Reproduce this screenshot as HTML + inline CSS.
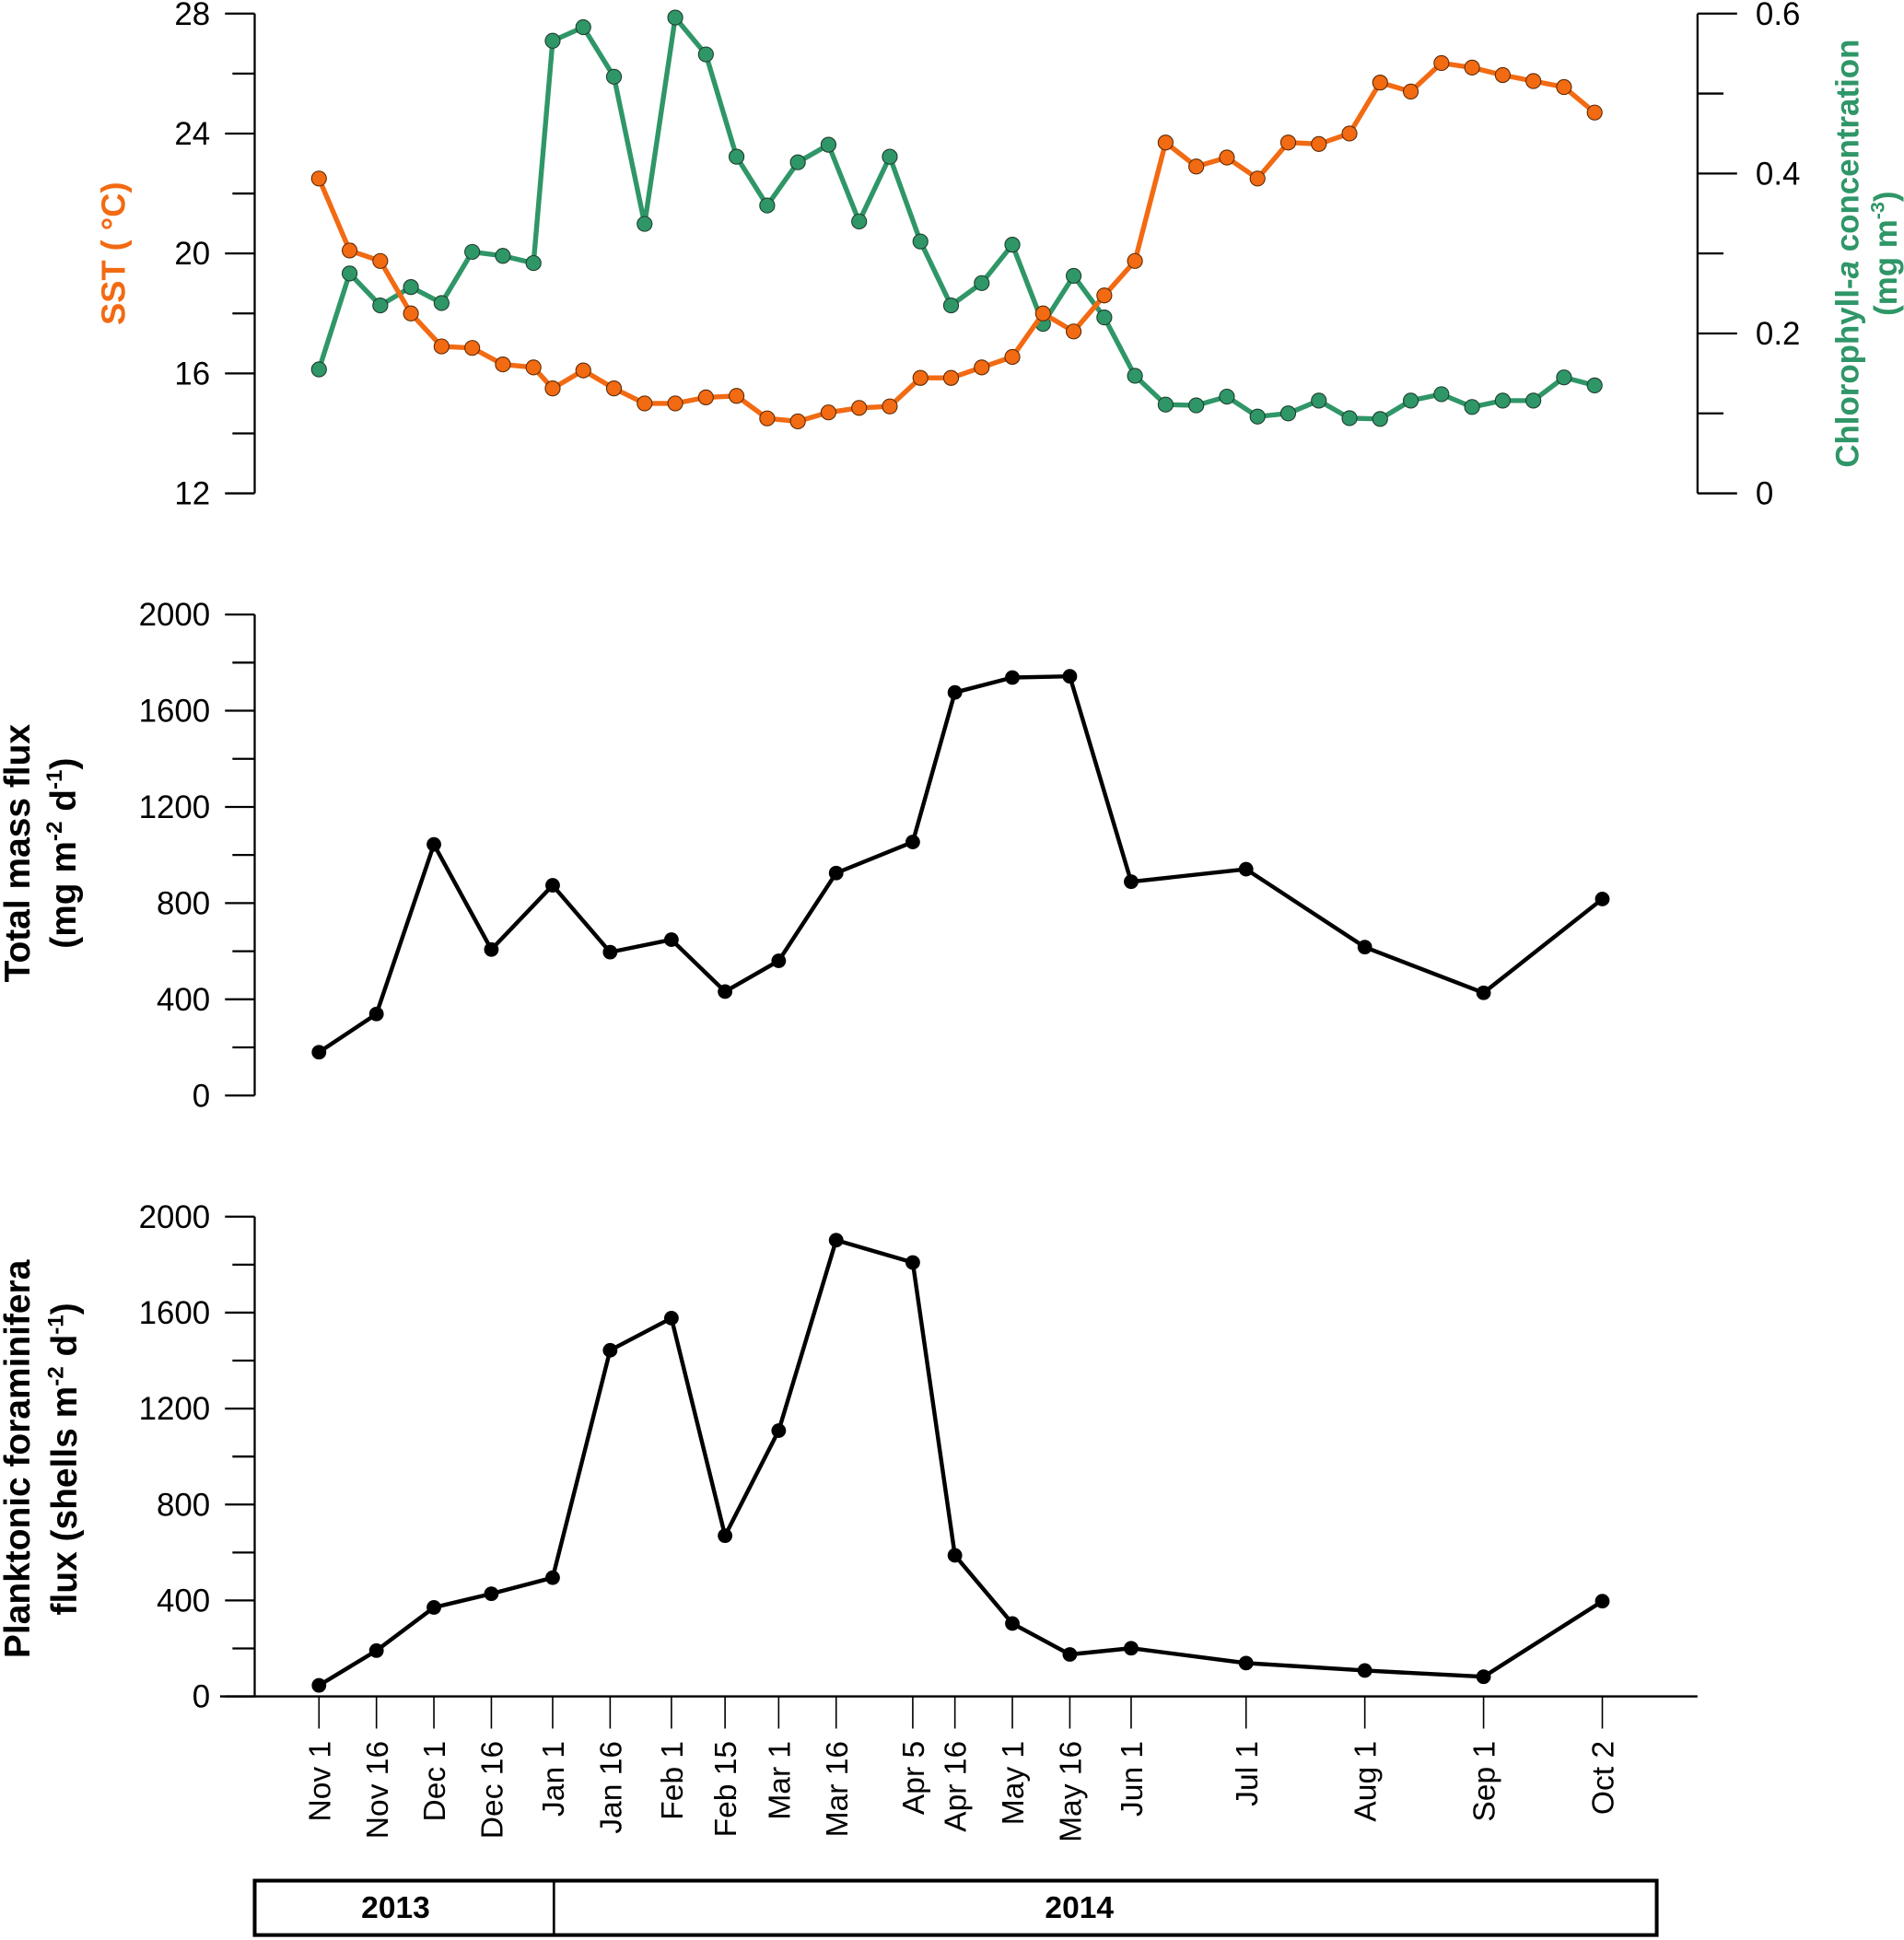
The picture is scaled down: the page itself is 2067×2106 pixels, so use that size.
<!DOCTYPE html>
<html><head><meta charset="utf-8">
<style>html,body{margin:0;padding:0;background:#fff}svg{display:block}text{font-family:"Liberation Sans",Arial,sans-serif}</style>
</head><body>
<svg id="chart" width="2067" height="2106" viewBox="0 0 1540 1569" preserveAspectRatio="none" xmlns="http://www.w3.org/2000/svg"></svg>
<script>
// ---- data ----
const satDays2013 = [0,8,16,24,32,40,48,56];
const satStart2014 = 61;
const satCount2014 = 35;
const sstValues = [22.5,20.1,19.75,18.0,16.9,16.85,16.3,16.2,15.5,16.1,15.5,15.0,15.0,15.2,15.25,14.5,14.4,14.7,14.85,14.9,15.85,15.85,16.2,16.55,18.0,17.4,18.6,19.75,23.7,22.9,23.2,22.5,23.7,23.65,24.0,25.7,25.4,26.35,26.2,25.95,25.75,25.55,24.7];
const chlValues = [0.155,0.275,0.235,0.258,0.238,0.302,0.297,0.288,0.566,0.583,0.521,0.337,0.595,0.549,0.421,0.360,0.414,0.436,0.340,0.421,0.315,0.235,0.263,0.311,0.212,0.272,0.220,0.147,0.111,0.110,0.121,0.096,0.100,0.116,0.094,0.093,0.116,0.124,0.108,0.116,0.116,0.145,0.135];
const dateLabels = ["Nov 1","Nov 16","Dec 1","Dec 16","Jan 1","Jan 16","Feb 1","Feb 15","Mar 1","Mar 16","Apr 5","Apr 16","May 1","May 16","Jun 1","Jul 1","Aug 1","Sep 1","Oct 2"];
const dateDays = [0,15,30,45,61,76,92,106,120,135,155,166,181,196,212,242,273,304,335];
const massFlux = [180,339,1044,607,874,596,648,432,560,925,1054,1676,1738,1743,889,941,617,427,817];
const foramFlux = [46,191,371,428,495,1443,1577,670,1108,1902,1809,588,304,175,201,139,108,82,397];
const sstTicks = [12,16,20,24,28];
const chlTicks = ["0","0.2","0.4","0.6"];
const fluxTicks = [0,400,800,1200,1600,2000];

// ---- helpers ----
const NS="http://www.w3.org/2000/svg";
const svg=document.getElementById('chart');
function mk(tag,attrs,parent){const e=document.createElementNS(NS,tag);for(const k in attrs)e.setAttribute(k,attrs[k]);(parent||svg).appendChild(e);return e;}
const xDay=d=>258+d*(1296-258)/335;
const ySST=v=>399-(v-12)*(388/16);
const yChl=v=>399-v*(388/0.6);
const yMass=v=>886-v*(389/2000);
const yForam=v=>1372-v*(388/2000);
const ORANGE="#f26a12", GREEN="#2f9668";
const satDays=satDays2013.concat(Array.from({length:satCount2014},(_,i)=>satStart2014+i*8));

function leftAxis(name,ticks,scale,minorStep,minV,maxV){
  const g=mk('g',{});
  
  
  mk('line',{x1:206,x2:206,y1:scale(minV),y2:scale(maxV),stroke:'#000','stroke-width':1.7},g);
  for(let v=minV;v<=maxV+1e-9;v+=minorStep){
    const major=ticks.some(t=>Math.abs(Number(t)-v)<1e-9);
    mk('line',{x1:major?182:188,x2:206,y1:scale(v),y2:scale(v),stroke:'#000','stroke-width':1.7},g);
  }
  ticks.forEach(t=>{const tx=mk('text',{x:170,y:scale(Number(t))+9,'text-anchor':'end','font-size':26},g);tx.textContent=t;});
  return g;
}
leftAxis('sst-axis',sstTicks,ySST,2,12,28);
leftAxis('mass-flux-axis',fluxTicks,yMass,200,0,2000);
leftAxis('foram-flux-axis',fluxTicks,yForam,200,0,2000);

// right axis chl
const ra=mk('g',{});


mk('line',{x1:1373,x2:1373,y1:yChl(0),y2:yChl(0.6),stroke:'#000','stroke-width':1.7},ra);
for(let i=0;i<=6;i++){const v=i/10;const major=i%2===0;mk('line',{x1:1373,x2:major?1405:1394,y1:yChl(v),y2:yChl(v),stroke:'#000','stroke-width':1.7},ra);}
chlTicks.forEach(t=>{const tx=mk('text',{x:1420,y:yChl(Number(t))+9,'font-size':26},ra);tx.textContent=t;});

// bottom x axis
const xa=mk('g',{});


mk('line',{x1:178,x2:1373,y1:1372,y2:1372,stroke:'#000','stroke-width':1.7},xa);
dateDays.forEach((d,i)=>{
  mk('line',{x1:xDay(d),x2:xDay(d),y1:1372,y2:1398,stroke:'#000','stroke-width':1.2},xa);
  const t=mk('text',{x:0,y:0,'text-anchor':'end','font-size':25,transform:`translate(${xDay(d)+9},1408) rotate(-90)`},xa);
  
  
  t.textContent=dateLabels[i];
});

// series
function series(name,xs,vals,ys,color,r,stroke,lw){
  const g=mk('g',{});
  
  
  mk('polyline',{points:vals.map((v,i)=>xs[i]+','+ys(v)).join(' '),fill:'none',stroke:color,'stroke-width':lw,'stroke-linejoin':'round'},g);
  vals.forEach((v,i)=>{const c=mk('circle',{cx:xs[i],cy:ys(v),r:r,fill:color,stroke:stroke,'stroke-width':0.8},g);
    
    });
}
const satX=satDays.map(xDay), dX=dateDays.map(xDay);
series('chlorophyll-line',satX,chlValues,yChl,GREEN,6,'#1d3d2c',4);
series('sst-line',satX,sstValues,ySST,ORANGE,6,'#5a2a05',4);
series('mass-flux-line',dX,massFlux,yMass,'#000',5.5,'#000',3.3);
series('foram-flux-line',dX,foramFlux,yForam,'#000',5.5,'#000',3.3);

// titles
function vtext(name,x,y,txt,color,size){const t=mk('text',{x:0,y:0,'text-anchor':'middle','font-size':size,'font-weight':'bold',fill:color,transform:`translate(${x},${y}) rotate(-90)`});
  
  
  t.innerHTML=txt;return t;}
vtext('sst-axis-title',101,205,'SST ( °C)',ORANGE,27);
vtext('chl-axis-title',1503,205,'Chlorophyll-<tspan font-style="italic">a</tspan> concentration',GREEN,26);
vtext('chl-axis-unit',1534,205,'(mg  m<tspan font-size="16" dy="-10">-3</tspan><tspan dy="10">)</tspan>',GREEN,26);
vtext('mass-flux-title',24,690,'Total mass flux',"#000",29);
vtext('mass-flux-unit',61,690,'(mg  m<tspan font-size="18" dy="-11">-2</tspan><tspan dy="11">  d</tspan><tspan font-size="18" dy="-11">-1</tspan><tspan dy="11">)</tspan>',"#000",29);
vtext('foram-flux-title',24,1180,'Planktonic foraminifera',"#000",29);
vtext('foram-flux-unit',62,1180,'flux (shells m<tspan font-size="18" dy="-11">-2</tspan><tspan dy="11">  d</tspan><tspan font-size="18" dy="-11">-1</tspan><tspan dy="11">)</tspan>',"#000",29);

// year bar
const yb=mk('g',{});


mk('rect',{x:206,y:1521,width:1134,height:44,fill:'none',stroke:'#000','stroke-width':3},yb);
mk('line',{x1:448,x2:448,y1:1521,y2:1565,stroke:'#000','stroke-width':2},yb);
const y13=mk('text',{x:320,y:1551,'text-anchor':'middle','font-size':25,'font-weight':'bold'},yb);y13.textContent='2013';


const y14=mk('text',{x:873,y:1551,'text-anchor':'middle','font-size':25,'font-weight':'bold'},yb);y14.textContent='2014';


</script>
</body></html>
